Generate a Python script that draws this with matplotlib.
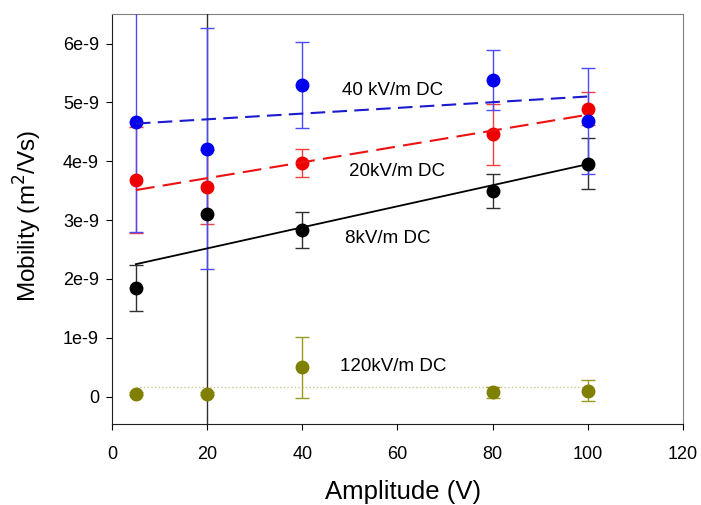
import numpy as np
import matplotlib
matplotlib.use('Agg')
import matplotlib.pyplot as plt

plt.rcParams['font.family'] = ['Liberation Sans', 'DejaVu Sans']

# Data (mobility in units of 1e-9 m^2/Vs)
amplitude = [5, 20, 40, 80, 100]

mob_8kv = [1.84, 3.11, 2.83, 3.50, 3.96]
err_8kv = [0.39, 3.8, 0.31, 0.29, 0.44]

mob_20kv = [3.68, 3.56, 3.97, 4.46, 4.89]
err_20kv = [0.90, 0.63, 0.24, 0.52, 0.28]

mob_40kv = [4.67, 4.21, 5.30, 5.38, 4.69]
err_40kv = [1.87, 2.05, 0.73, 0.51, 0.90]

mob_120kv = [0.05, 0.05, 0.50, 0.07, 0.10]
err_120kv = [0.03, 0.03, 0.52, 0.10, 0.18]

# linear fit end points
fit_x = [5, 100]
fit_8kv = [2.25, 3.95]
fit_20kv = [3.51, 4.79]
fit_40kv = [4.64, 5.10]
fit_120kv = [0.16, 0.16]

ytick_vals = [0, 1, 2, 3, 4, 5, 6]
ytick_labels = ['0', '1e-9', '2e-9', '3e-9', '4e-9', '5e-9', '6e-9']
xtick_vals = [0, 20, 40, 60, 80, 100, 120]

scale = 1e-9

fig = plt.figure(figsize=(7.01, 5.05), dpi=100)
ax = fig.add_axes([0.160, 0.160, 0.814, 0.812])

def series(y, e, col, ecol):
    y = np.array(y) * scale
    e = np.array(e) * scale
    ax.errorbar(amplitude, y, yerr=e, fmt='o', color=col, ecolor=ecol,
                markersize=9, elinewidth=1.0, capsize=5, capthick=1.0,
                zorder=3)

series(mob_8kv, err_8kv, 'black', '#303030')
series(mob_20kv, err_20kv, '#ee0000', '#f04040')
series(mob_40kv, err_40kv, '#0000ee', '#4a4aff')
series(mob_120kv, err_120kv, '#7f7f00', '#9a9a20')

ax.plot(fit_x, np.array(fit_8kv) * scale, '-', color='black', lw=1.3, zorder=4)
ax.plot(fit_x, np.array(fit_20kv) * scale, color='#ee1111', lw=1.5,
        dashes=(9, 4), zorder=4)
ax.plot(fit_x, np.array(fit_40kv) * scale, color='#1a1ad0', lw=1.5,
        dashes=(7, 3.5), zorder=4)
ax.plot(fit_x, np.array(fit_120kv) * scale, ':', color='#c8c890', lw=1.0,
        zorder=2)

lab_kw = dict(ha='center', va='center', fontsize=13.5)
ax.text(59, 5.2 * scale, '40 kV/m DC', **lab_kw)
ax.text(60, 3.83 * scale, '20kV/m DC', **lab_kw)
ax.text(58, 2.68 * scale, '8kV/m DC', **lab_kw)
ax.text(59, 0.51 * scale, '120kV/m DC', **lab_kw)

ax.set_xlim(0, 120)
ax.set_ylim(-0.47 * scale, 6.5 * scale)
ax.set_xticks(xtick_vals)
ax.set_yticks(np.array(ytick_vals) * scale)
ax.set_yticklabels(ytick_labels)
ax.tick_params(axis='both', labelsize=13, direction='out', length=4.5,
               top=False, right=False)
ax.tick_params(axis='x', pad=11)
ax.tick_params(axis='y', pad=5)

ax.set_xlabel('Amplitude (V)', fontsize=18.5, va='center')
ax.xaxis.set_label_coords(0.51, -0.166)
ax.set_ylabel('Mobility (m$^2$/Vs)', fontsize=17.5, va='center')
ax.yaxis.set_label_coords(-0.147, 0.508)

for s in ['top', 'right']:
    ax.spines[s].set_color('#808080')
for s in ['left', 'bottom']:
    ax.spines[s].set_color('#202020')

fig.savefig('out.png', dpi=100)
